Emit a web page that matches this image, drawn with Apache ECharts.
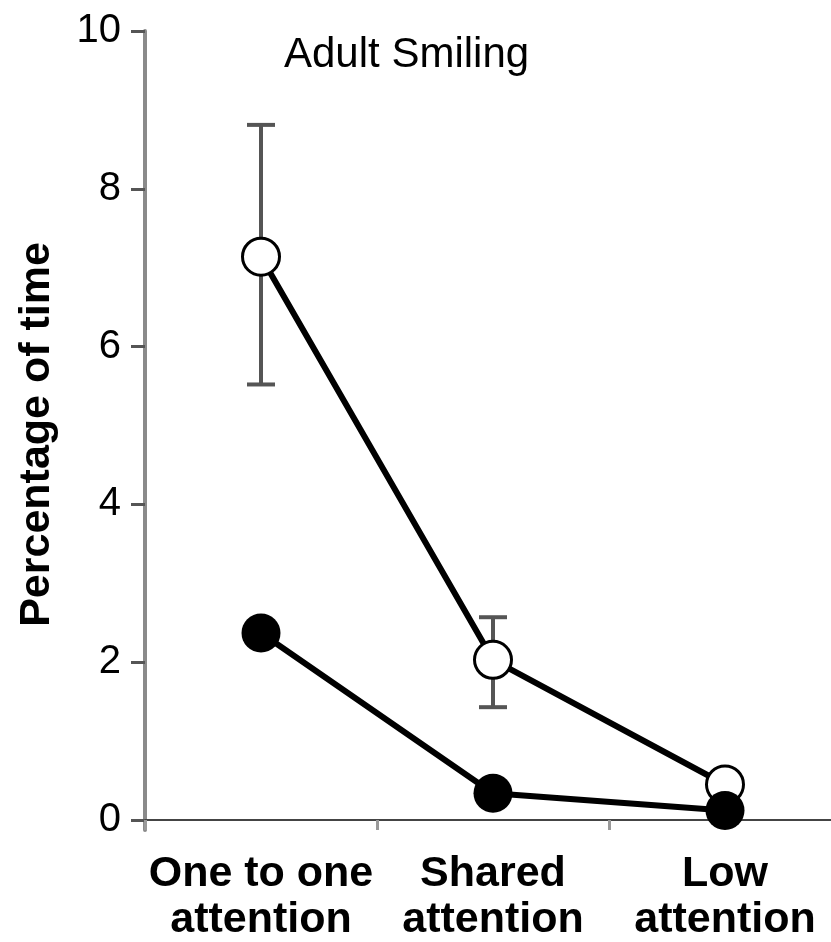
<!DOCTYPE html>
<html>
<head>
<meta charset="utf-8">
<script src="https://cdn.jsdelivr.net/npm/echarts@6/dist/echarts.min.js"></script>
<style>html,body{margin:0;padding:0;background:#fff}#c{width:831px;height:942px}</style>
</head>
<body>
<div id="c"></div>
<script>
const categories = ['One to one\nattention', 'Shared\nattention', 'Low\nattention'];
const openMeans = [7.14, 2.03, 0.45];
const openErrLow = [5.52, 1.43, null];
const openErrHigh = [8.81, 2.57, null];
const filledMeans = [2.37, 0.34, 0.12];
const yMin = 0, yMax = 10, yStep = 2;
const titleText = 'Adult Smiling';
const yName = 'Percentage of time';

const FONT = '"Liberation Sans", Arial, sans-serif';
const errData = categories.map((c, i) => [i, openErrLow[i], openErrHigh[i]]).filter(d => d[1] != null);

const chart = echarts.init(document.getElementById('c'), null, {renderer: 'canvas'});
chart.setOption({
  animation: false,
  backgroundColor: '#fff',
  title: {
    text: titleText, left: 279, top: 29,
    textStyle: {fontFamily: FONT, fontSize: 42, fontWeight: 'normal', color: '#000'}
  },
  grid: [
    {left: 145, width: 696, top: 31, bottom: 122, outerBoundsMode: 'none', containLabel: false},
    {left: 145, width: 696, top: 31, bottom: 112, outerBoundsMode: 'none', containLabel: false}
  ],
  xAxis: [
    {
      type: 'category', data: categories, gridIndex: 0, boundaryGap: true,
      axisLine: {show: true, onZero: true, lineStyle: {color: '#444', width: 2}},
      axisTick: {show: true, alignWithLabel: false, length: 10, lineStyle: {color: '#999', width: 3}},
      axisLabel: {fontFamily: FONT, fontSize: 43, fontWeight: 'bold', color: '#000', lineHeight: 46, margin: 31, interval: 0},
      splitLine: {show: false}
    },
    {type: 'category', data: categories, gridIndex: 1, show: false}
  ],
  yAxis: [
    {
      type: 'value', gridIndex: 0, min: yMin, max: yMax, interval: yStep,
      name: yName, nameLocation: 'middle', nameGap: 86, nameRotate: 90,
      nameTextStyle: {fontFamily: FONT, fontSize: 43, fontWeight: 'bold', color: '#000', padding: [0, 18, 0, 0]},
      axisLine: {show: false},
      axisTick: {show: true, inside: false, length: 14, lineStyle: {color: '#555', width: 3}},
      axisLabel: {fontFamily: FONT, fontSize: 40, color: '#000', margin: 24, padding: [0, 0, 8, 0]},
      splitLine: {show: false}
    },
    {
      type: 'value', gridIndex: 1, min: yMin, max: yMax,
      axisLine: {show: true, lineStyle: {color: '#8a8a8a', width: 4}},
      axisTick: {show: false}, axisLabel: {show: false}, splitLine: {show: false}
    }
  ],
  series: [
    {
      type: 'custom', xAxisIndex: 0, yAxisIndex: 0, z: 1,
      data: errData,
      encode: {x: 0, y: [1, 2]},
      renderItem: function (params, api) {
        const i = api.value(0);
        const lo = api.coord([i, api.value(1)]);
        const hi = api.coord([i, api.value(2)]);
        const hw = 14;
        const st = {stroke: '#555', lineWidth: 4};
        return {
          type: 'group',
          children: [
            {type: 'line', shape: {x1: lo[0], y1: lo[1], x2: hi[0], y2: hi[1]}, style: st},
            {type: 'line', shape: {x1: lo[0] - hw, y1: lo[1], x2: lo[0] + hw, y2: lo[1]}, style: st},
            {type: 'line', shape: {x1: hi[0] - hw, y1: hi[1], x2: hi[0] + hw, y2: hi[1]}, style: st}
          ]
        };
      }
    },
    {
      type: 'line', xAxisIndex: 0, yAxisIndex: 0, z: 3,
      data: openMeans,
      symbol: 'circle', symbolSize: 37,
      lineStyle: {color: '#000', width: 6},
      itemStyle: {color: '#fff', borderColor: '#000', borderWidth: 3}
    },
    {
      type: 'line', xAxisIndex: 0, yAxisIndex: 0, z: 4,
      data: filledMeans,
      symbol: 'circle', symbolSize: 39,
      lineStyle: {color: '#000', width: 6},
      itemStyle: {color: '#000', borderColor: '#000', borderWidth: 0}
    }
  ]
});
</script>
</body>
</html>
